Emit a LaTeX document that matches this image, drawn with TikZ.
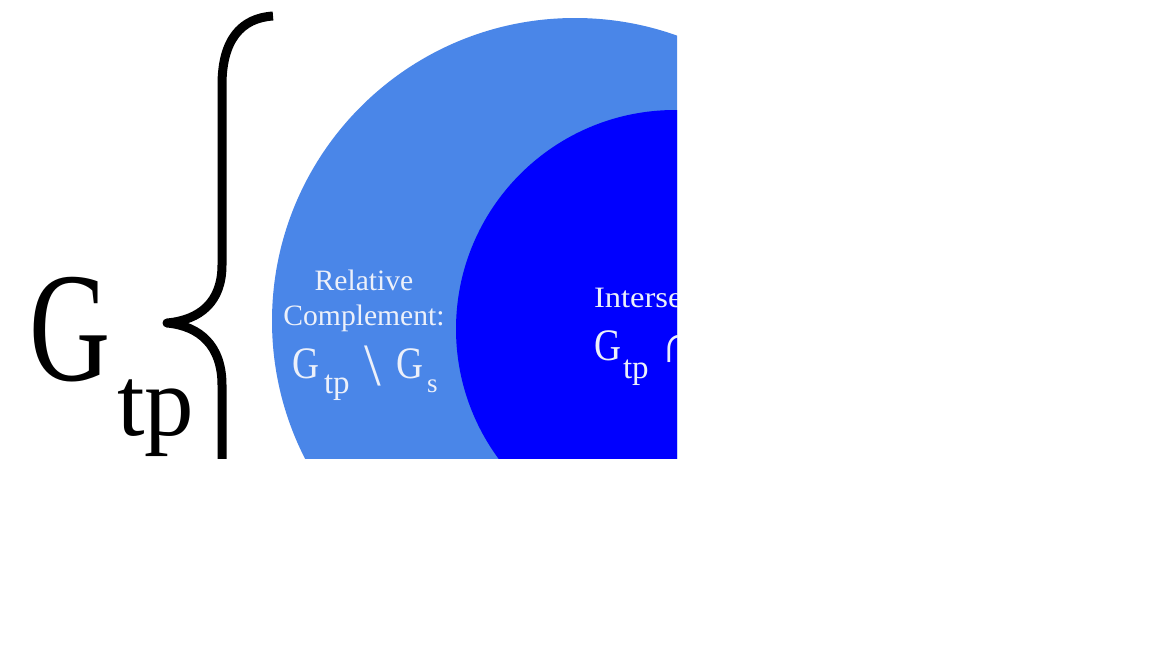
\documentclass[tikz,border=0pt]{standalone}
\usepackage{fontspec}
\setmainfont{Liberation Serif}
\definecolor{outerblue}{RGB}{74,134,232}
\definecolor{innerblue}{RGB}{0,0,255}
\definecolor{lighttext}{RGB}{236,240,250}
\begin{document}
\begin{tikzpicture}[x=0.5pt,y=-0.5pt,
  lbl/.style={inner sep=0pt,outer sep=0pt,text=lighttext},
  bigtxt/.style={inner sep=0pt,outer sep=0pt,text=black},
  bracestroke/.style={line width=4.5pt,line join=round,black}]
\fill[white] (0,0) rectangle (1160,653);
\useasboundingbox (0,0) rectangle (1160,653);
\begin{scope}
\clip (0,0) rectangle (677,458);
% circles
\fill[outerblue] (575,321) circle[radius=303];
\fill[innerblue] (675,329) circle[radius=219];
% brace
\draw[bracestroke] (273,16) .. controls (241,18) and (222,40) .. (222,85)
  -- (222,265) .. controls (222,302) and (200,320) .. (167,323)
  .. controls (200,326) and (222,346) .. (222,385) -- (222,560)
  .. controls (222,605) and (241,628) .. (273,630);
% big label
\node[bigtxt,anchor=base west,font=\fontsize{78pt}{78pt}\selectfont] (bigG) at (29,380) {\scalebox{0.72}[1]{G}};
\node[bigtxt,anchor=base west,font=\fontsize{49.5pt}{50pt}\selectfont] (bigtp) at (117,435) {tp};
% relative complement
\node[lbl,anchor=base,font=\fontsize{14.8pt}{15pt}\selectfont] (rel1) at (364,290) {Relative};
\node[lbl,anchor=base,font=\fontsize{14.8pt}{15pt}\selectfont] (rel2) at (364,325) {Complement:};
\node[lbl,anchor=base west,font=\fontsize{22.5pt}{23pt}\selectfont] (relG1) at (292,378) {\scalebox{0.83}[1]{G}};
\node[lbl,anchor=base west,font=\fontsize{16.5pt}{17pt}\selectfont] (reltp) at (324,393) {tp};
\node[lbl,anchor=center,font=\fontsize{30pt}{30pt}\selectfont] (relbs) at (373,366) {\textbackslash};
\node[lbl,anchor=base west,font=\fontsize{22.5pt}{23pt}\selectfont] (relG2) at (396,378) {\scalebox{0.83}[1]{G}};
\node[lbl,anchor=base west,font=\fontsize{13.5pt}{14pt}\selectfont] (rels) at (427,392) {s};
% intersection
\node[lbl,anchor=base west,font=\fontsize{14.8pt}{15pt}\selectfont] (int1) at (594,307) {\scalebox{1.1}[1]{Intersection:}};
\node[lbl,anchor=base west,font=\fontsize{22.5pt}{23pt}\selectfont] (intG1) at (594,360) {\scalebox{0.83}[1]{G}};
\node[lbl,anchor=base west,font=\fontsize{16.5pt}{17pt}\selectfont] (inttp) at (623,378) {tp};
\node[lbl,anchor=base west,font=\fontsize{27pt}{28pt}\selectfont] (intcap) at (660,362) {∩};
\node[lbl,anchor=base west,font=\fontsize{22.5pt}{23pt}\selectfont] (intG2) at (700,360) {\scalebox{0.83}[1]{G}};
\node[lbl,anchor=base west,font=\fontsize{13.5pt}{14pt}\selectfont] (ints) at (731,374) {s};
\end{scope}
\end{tikzpicture}
\end{document}
